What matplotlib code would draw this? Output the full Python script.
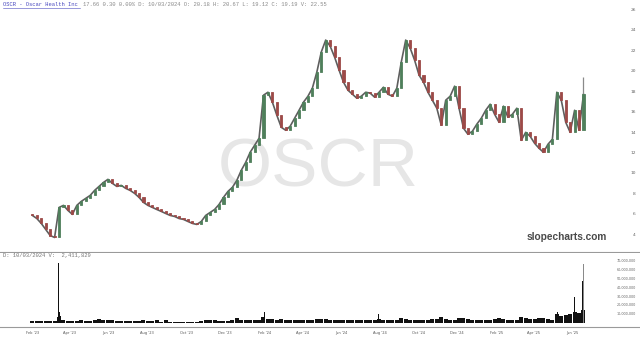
import matplotlib
matplotlib.use("Agg")
import matplotlib.pyplot as plt
import matplotlib.dates as mdates
import numpy as np
import pandas as pd
from matplotlib.lines import Line2D

# ---------------- data (weekly) ----------------
closes = [5.86, 5.56, 5.08, 4.49, 3.90, 3.71, 6.64, 6.84, 6.35, 5.96,
          6.84, 7.23, 7.52, 7.81, 8.30, 8.69, 9.08, 9.38, 8.99, 8.69,
          8.79, 8.50, 8.30, 8.01, 7.62, 7.13, 6.84, 6.64, 6.44, 6.25,
          6.05, 5.86, 5.76, 5.56, 5.47, 5.27, 5.08, 4.98, 5.27, 5.86,
          6.15, 6.44, 6.93, 7.62, 8.20, 8.60, 9.28, 10.26, 11.04, 12.02,
          12.70, 13.39, 17.59, 17.88, 16.91, 15.64, 14.46, 14.17, 14.56, 15.34,
          16.12, 16.91, 17.49, 18.28, 19.84, 21.80, 22.97, 22.38, 21.31, 20.04,
          18.86, 18.08, 17.69, 17.30, 17.49, 17.88, 17.79, 17.40, 17.88, 18.37,
          17.69, 17.49, 18.28, 20.82, 22.97, 22.19, 21.01, 19.55, 18.86, 17.88,
          17.10, 16.32, 14.66, 17.10, 17.49, 18.47, 16.32, 14.37, 13.78, 14.07,
          14.76, 15.34, 16.12, 16.71, 15.73, 14.95, 16.52, 15.44, 15.73, 16.32,
          13.19, 13.97, 13.58, 12.90, 12.41, 12.02, 12.80, 13.29, 17.88, 17.10,
          14.95, 13.97, 16.12, 14.17, 17.66]
first_open = 6.00
first_week = "2023-02-03"
last_high = 19.35

# weekly typical daily volume, millions
vol_week = [1.5, 2.0, 1.5, 1.5, 1.8, 2.0, 6.0, 3.0, 2.0, 1.5,
            1.5, 2.5, 2.0, 2.0, 3.0, 4.0, 2.5, 2.5, 3.5, 2.0,
            1.5, 1.5, 1.5, 2.0, 1.5, 3.0, 1.5, 1.5, 3.5, 1.2,
            2.5, 1.2, 1.0, 1.0, 1.0, 1.2, 1.0, 1.0, 1.5, 2.5,
            3.0, 2.5, 2.0, 2.0, 2.0, 2.5, 5.0, 3.0, 3.0, 2.5,
            3.0, 3.0, 6.0, 4.0, 4.0, 3.5, 4.0, 3.5, 3.5, 3.0,
            3.0, 3.5, 3.0, 3.5, 4.0, 4.5, 4.0, 3.5, 3.5, 3.0,
            3.0, 3.0, 3.0, 2.5, 3.0, 2.5, 3.0, 3.0, 4.0, 3.0,
            2.5, 2.5, 3.0, 5.0, 4.0, 3.5, 3.0, 3.0, 3.0, 3.5,
            4.0, 4.0, 6.0, 4.5, 3.5, 3.5, 5.0, 5.0, 4.0, 3.5,
            3.5, 3.0, 3.0, 3.0, 4.0, 5.0, 4.0, 3.5, 3.5, 3.5,
            6.0, 5.0, 4.5, 4.0, 5.0, 5.0, 4.0, 3.5, 10.0, 8.0,
            9.0, 10.0, 12.0, 11.0, 14.0]

spike_dates = ["2023-03-14", "2023-03-15", "2023-03-16", "2023-03-17",
               "2024-01-02", "2024-02-01", "2024-07-30", "2025-05-08",
               "2025-06-04", "2025-06-16", "2025-06-17", "2025-06-18"]
spike_vols = [66.7, 23.0, 12.0, 8.0, 8.0, 11.5, 10.0, 12.0, 28.6, 23.0, 47.0, 66.0]
spike_colors = ["#111111"] * 11 + ["#8a8a8a"]

month_ticks = ["2023-02-01", "2023-04-01", "2023-06-01", "2023-08-01", "2023-10-01",
               "2023-12-01", "2024-02-01", "2024-04-01", "2024-06-01", "2024-08-01",
               "2024-10-01", "2024-12-01", "2025-02-01", "2025-04-01", "2025-06-01"]
month_labels = ["Feb '23", "Apr '23", "Jun '23", "Aug '23", "Oct '23", "Dec '23",
                "Feb '24", "Apr '24", "Jun '24", "Aug '24", "Oct '24", "Dec '24",
                "Feb '25", "Apr '25", "Jun '25"]
price_ticks = [4, 6, 8, 10, 12, 14, 16, 18, 20, 22, 24, 26]
vol_ticks = [10e6, 20e6, 30e6, 40e6, 50e6, 60e6, 70e6]

header_title = "OSCR - Oscar Health Inc"
header_rest = "17.66 0.30 0.00% D: 10/03/2024 O: 20.18 H: 20.67 L: 19.12 C: 19.19 V: 22.55"
vol_header = "D: 10/03/2024 V:  2,411,829"

# ---------------- figure ----------------
W, H = 640, 340
fig = plt.figure(figsize=(6.4, 3.4), dpi=100)
fig.patch.set_facecolor("white")

def fy(py):
    return (H - py) / H

ax = fig.add_axes([0, fy(251.5), 1, 251.5 / H])
axv = fig.add_axes([0, fy(326.5), 1, (326.5 - 252.5) / H], sharex=ax)

week_dates = pd.date_range(first_week, periods=len(closes), freq="W-FRI")
xw = mdates.date2num(week_dates) - 2.0
c = np.array(closes)
o = np.array([first_open] + closes[:-1])
up = c >= o
cols = np.where(up, "#4f7f5b", "#9c4a48")

# connecting wick line, then bodies
ax.plot(xw, c, color="#5e5e5e", linewidth=1.2, zorder=2)
ax.vlines(xw[-1], c[-1], last_high, color="#8a8a8a", linewidth=0.9, zorder=2)
ax.bar(xw, c - o, bottom=o, width=3.2, color=cols, edgecolor=cols,
       linewidth=0.6, zorder=3)

ax.set_ylim(2.34, 26.88)
ax.set_xlim(mdates.date2num(pd.Timestamp("2022-12-12")),
            mdates.date2num(pd.Timestamp("2025-09-15")))

# watermark and brand
ax.text(0.497, 0.33, "OSCR", transform=ax.transAxes, ha="center", va="center",
        fontsize=50, color="#e6e6e6", family="Liberation Sans", zorder=0)
ax.text(607 / W, 1 - 237 / 251.5, "slopecharts.com", transform=ax.transAxes,
        ha="right", va="center", fontsize=7.3, fontweight="bold",
        color="#4a4a4a", family="Liberation Sans", zorder=4)

# price axis labels inside on the right
ax.yaxis.tick_right()
ax.set_yticks(price_ticks)
ax.set_yticklabels([str(t) for t in price_ticks])
ax.tick_params(axis="y", length=0, pad=-3, labelsize=3.2, labelcolor="#666666")
for lab in ax.get_yticklabels():
    lab.set_horizontalalignment("right")
ax.tick_params(axis="x", length=0, labelbottom=False)
for s in ["top", "left", "right"]:
    ax.spines[s].set_visible(False)
ax.spines["bottom"].set_color("#9a9a9a")
ax.spines["bottom"].set_linewidth(0.8)

# volume
axv.bar(xw, np.array(vol_week) * 1e6, width=6.3, color="#111111", linewidth=0)
axv.bar(mdates.date2num(pd.to_datetime(spike_dates)), np.array(spike_vols) * 1e6,
        width=1.3, color=spike_colors, linewidth=0)
axv.set_ylim(-4.3e6, 79e6)
axv.yaxis.tick_right()
axv.set_yticks(vol_ticks)
axv.set_yticklabels([f"{int(v):,}" for v in vol_ticks])
axv.tick_params(axis="y", length=0, pad=-3, labelsize=2.4, labelcolor="#666666")
for lab in axv.get_yticklabels():
    lab.set_horizontalalignment("right")
axv.set_xticks(mdates.date2num(pd.to_datetime(month_ticks)))
axv.set_xticklabels(month_labels)
axv.tick_params(axis="x", length=0, pad=3.5, labelsize=2.6, labelcolor="#555555")
for s in ["top", "left", "right"]:
    axv.spines[s].set_visible(False)
axv.spines["bottom"].set_color("#9a9a9a")
axv.spines["bottom"].set_linewidth(0.8)

# headers
mono = "Liberation Mono"
fs_h = 4
char_w = 0.6 * fs_h / 72 * 100
fig.text(3 / W, fy(4.5), header_title, ha="left", va="center", fontsize=fs_h,
         family=mono, color="#4a4ac0")
fig.text((3 + char_w * (len(header_title) + 1)) / W, fy(4.5), header_rest,
         ha="left", va="center", fontsize=fs_h, family=mono, color="#8a8a8a")
fig.add_artist(Line2D([3 / W, (3 + char_w * len(header_title)) / W],
                      [fy(7.6), fy(7.6)], color="#4a4ac0", linewidth=0.4))
fig.text(3 / W, fy(256), vol_header, ha="left", va="center", fontsize=fs_h,
         family=mono, color="#777777")

fig.savefig("out.png", dpi=100, facecolor="white")
